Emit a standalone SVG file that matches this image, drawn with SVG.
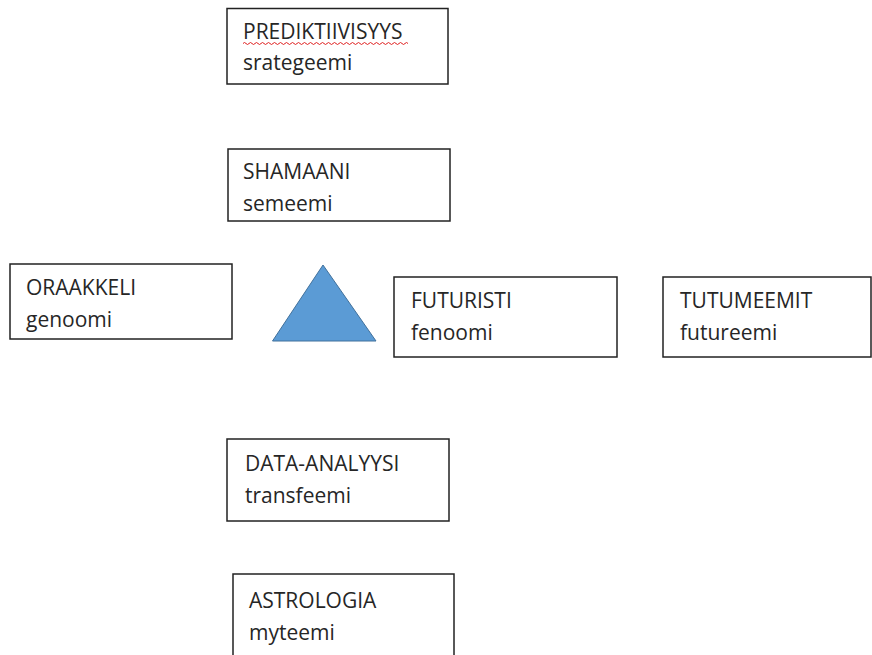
<svg xmlns="http://www.w3.org/2000/svg" width="872" height="655" viewBox="0 0 872 655">
<style>
.box{fill:#fff;stroke:#222;stroke-width:1.5}
.t{font-family:"Open Sans","Noto Sans",sans-serif;font-size:21px;fill:#262626}
</style>
<rect width="872" height="655" fill="#fff"/>
<g id="connectors"></g>
<g id="prediktiivisyys">
<rect class="box" x="227" y="8.5" width="221" height="75.5"/>
<text class="t" x="243" y="39">PREDIKTIIVISYYS</text>
<path d="M243,43.5 q1.5,-2 3,0 t3,0 t3,0 t3,0 t3,0 t3,0 t3,0 t3,0 t3,0 t3,0 t3,0 t3,0 t3,0 t3,0 t3,0 t3,0 t3,0 t3,0 t3,0 t3,0 t3,0 t3,0 t3,0 t3,0 t3,0 t3,0 t3,0 t3,0 t3,0 t3,0 t3,0 t3,0 t3,0 t3,0 t3,0 t3,0 t3,0 t3,0 t3,0 t3,0 t3,0 t3,0 t3,0 t3,0 t3,0 t3,0 t3,0 t3,0 t3,0 t3,0 t3,0 t3,0 t3,0 t3,0 t3,0" fill="none" stroke="#e02020" stroke-width="1"/>
<text class="t" x="243" y="70">srategeemi</text>
</g>
<g id="shamaani">
<rect class="box" x="228" y="149" width="222" height="72"/>
<text class="t" x="243" y="179">SHAMAANI</text>
<text class="t" x="243" y="211">semeemi</text>
</g>
<g id="oraakkeli">
<rect class="box" x="10" y="264" width="222" height="75"/>
<text class="t" x="26" y="295">ORAAKKELI</text>
<text class="t" x="26" y="327">genoomi</text>
</g>
<g id="triangle">
<polygon points="323,265 272.5,341 376,341" fill="#5b9bd5" stroke="#41719c" stroke-width="1"/>
</g>
<g id="futuristi">
<rect class="box" x="394" y="277" width="223" height="80"/>
<text class="t" x="411" y="308">FUTURISTI</text>
<text class="t" x="411" y="340">fenoomi</text>
</g>
<g id="tutumeemit">
<rect class="box" x="663" y="277" width="208" height="80"/>
<text class="t" x="680" y="308">TUTUMEEMIT</text>
<text class="t" x="680" y="340">futureemi</text>
</g>
<g id="data-analyysi">
<rect class="box" x="227" y="439" width="222" height="82"/>
<text class="t" x="245" y="471">DATA-ANALYYSI</text>
<text class="t" x="245" y="503">transfeemi</text>
</g>
<g id="astrologia">
<rect class="box" x="233" y="574" width="221" height="90"/>
<text class="t" x="249" y="608">ASTROLOGIA</text>
<text class="t" x="249" y="640">myteemi</text>
</g>
</svg>
